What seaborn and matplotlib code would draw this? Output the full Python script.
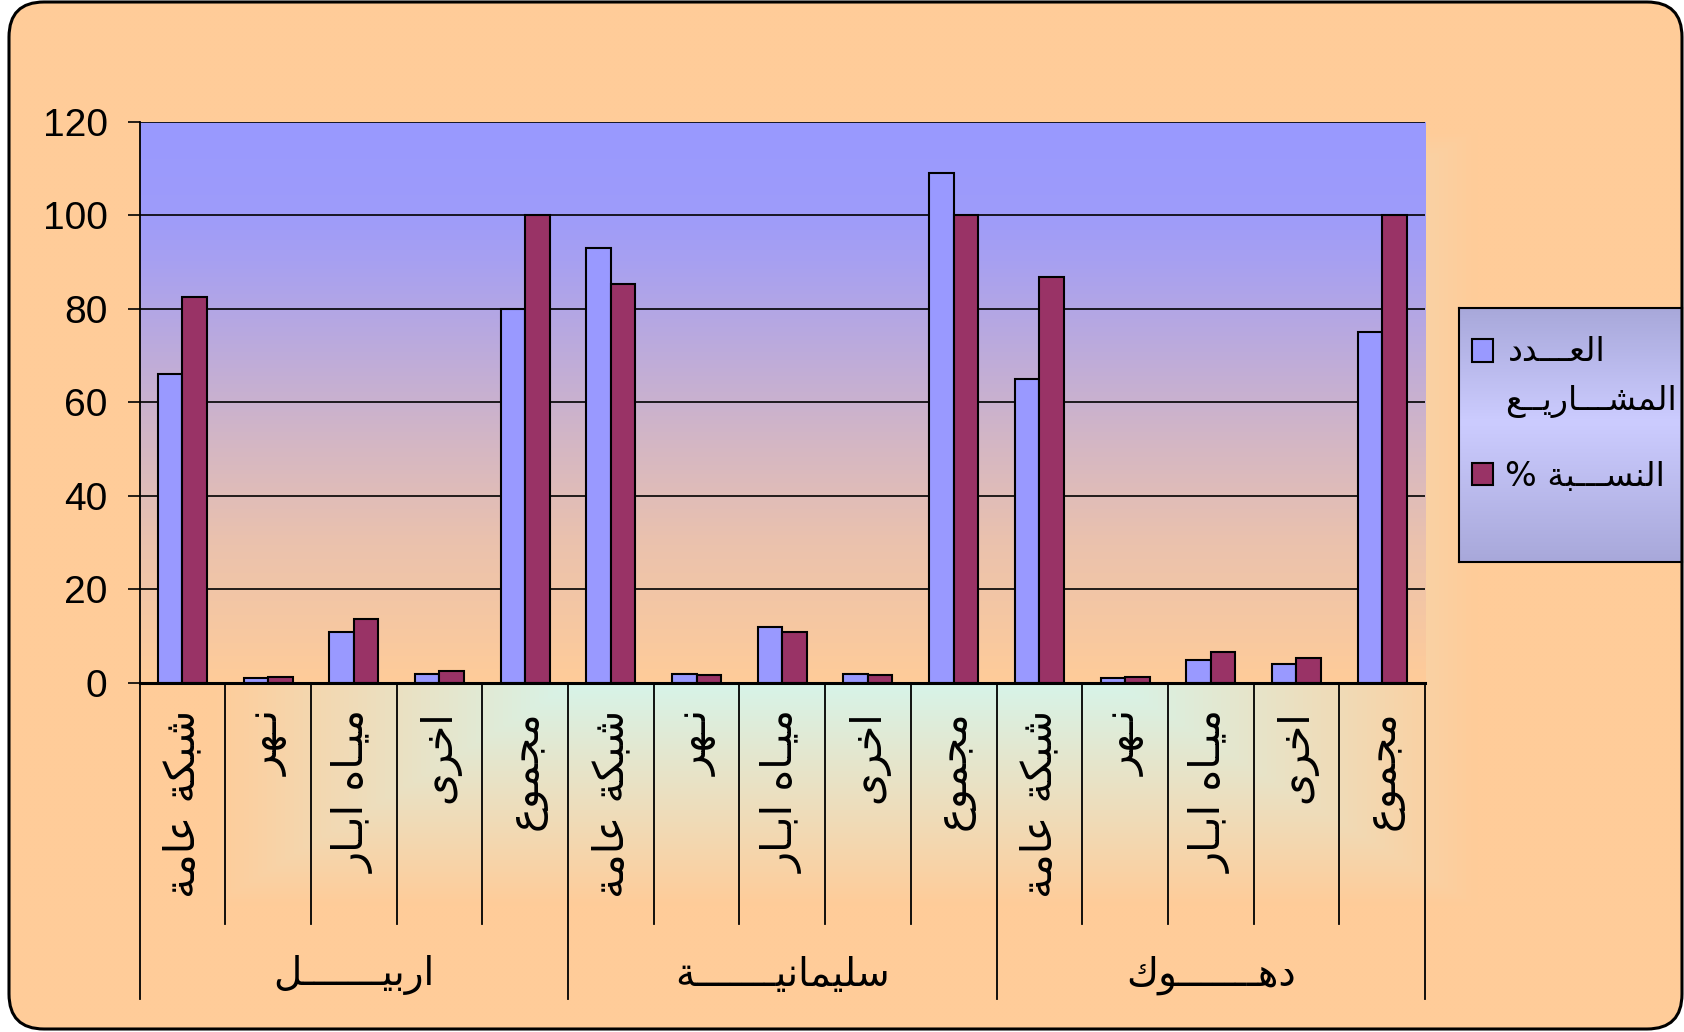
import numpy as np
import pandas as pd
import matplotlib
matplotlib.use('Agg')
import matplotlib.pyplot as plt
import seaborn as sns
from matplotlib.patches import FancyBboxPatch, Rectangle
from matplotlib.transforms import blended_transform_factory
from matplotlib.colors import to_rgb

# DATA
groups = ['اربيـــــــل', 'سليمانيـــــــة', 'دهـــــــوك']
categories = ['شبكة عامة', 'نـهر', 'ميـاه ابـار', 'اخرى', 'مجموع']
series_names = ['العـــدد المشـــاريــع', 'النســـبة %']
count_values = [66, 1, 11, 2, 80, 93, 2, 12, 2, 109, 65, 1, 5, 4, 75]
pct_values = [82.5, 1.25, 13.75, 2.5, 100, 85.3, 1.8, 11.0, 1.8, 100, 86.7, 1.3, 6.7, 5.3, 100]
yticks = [0, 20, 40, 60, 80, 100, 120]

BLUE = '#9999FF'
RED = '#993366'
PEACH = np.array(to_rgb('#FFCC99'))
CYAN = np.array(to_rgb('#CCFFFF'))

# matplotlib has no arabic shaping, so pick the presentation forms by hand
# char -> (first presentation form, number of forms)
AR = {'ا': (0xFE8D, 2), 'ب': (0xFE8F, 4), 'ة': (0xFE93, 2), 'ت': (0xFE95, 4),
      'ث': (0xFE99, 4), 'ج': (0xFE9D, 4), 'ح': (0xFEA1, 4), 'خ': (0xFEA5, 4),
      'د': (0xFEA9, 2), 'ذ': (0xFEAB, 2), 'ر': (0xFEAD, 2), 'ز': (0xFEAF, 2),
      'س': (0xFEB1, 4), 'ش': (0xFEB5, 4), 'ص': (0xFEB9, 4), 'ض': (0xFEBD, 4),
      'ط': (0xFEC1, 4), 'ظ': (0xFEC5, 4), 'ع': (0xFEC9, 4), 'غ': (0xFECD, 4),
      'ف': (0xFED1, 4), 'ق': (0xFED5, 4), 'ك': (0xFED9, 4), 'ل': (0xFEDD, 4),
      'م': (0xFEE1, 4), 'ن': (0xFEE5, 4), 'ه': (0xFEE9, 4), 'و': (0xFEED, 2),
      'ى': (0xFEEF, 2), 'ي': (0xFEF1, 4), 'ـ': (0x0640, 4)}


def shape(text):
    out = []
    for i, ch in enumerate(text):
        if ch not in AR or ch == 'ـ':
            out.append(ch)
            continue
        prev = text[i - 1] if i > 0 else ''
        nxt = text[i + 1] if i + 1 < len(text) else ''
        base, n = AR[ch]
        join_prev = prev in AR and AR[prev][1] == 4
        join_next = n == 4 and nxt in AR
        if join_prev and join_next:
            form = 3
        elif join_prev:
            form = 1
        elif join_next:
            form = 2
        else:
            form = 0
        out.append(chr(base + form))
    return ''.join(reversed(out))


AR_FONT = ['DejaVu Sans']
plt.rcParams['font.family'] = ['Liberation Sans', 'DejaVu Sans']

W, H = 1684, 1032
fig = plt.figure(figsize=(W / 100, H / 100), dpi=100)

# chart area background: gradient from the centre, rounded border
bg = fig.add_axes([0, 0, 1, 1], zorder=-5)
bg.set_xlim(0, W)
bg.set_ylim(H, 0)
bg.axis('off')
yy, xx = np.mgrid[0:H:4, 0:W:4]
t = np.maximum(np.abs(xx - W / 2) / (W / 2), np.abs(yy - H / 2) / (H / 2))
s = np.clip((t - 0.2) / 0.55, 0, 1)[..., None]
bg_img = bg.imshow((1 - s) * CYAN + s * PEACH, extent=[0, W, H, 0], interpolation='bilinear', aspect='auto')
clip_box = FancyBboxPatch((9, 2), 1673, 1027, boxstyle='round,pad=0,rounding_size=35',
                          fc='none', ec='none', transform=bg.transData)
bg.add_patch(clip_box)
bg_img.set_clip_path(clip_box)

# plot area
ax_l, ax_r, ax_t, ax_b = 139.5, 1425, 121.5, 683
ax = fig.add_axes([ax_l / W, 1 - ax_b / H, (ax_r - ax_l) / W, (ax_b - ax_t) / H])

slots = [f'{g}-{c}' for g in range(len(groups)) for c in range(len(categories))]
df = pd.DataFrame({
    'slot': slots * 2,
    'series': [series_names[0]] * len(slots) + [series_names[1]] * len(slots),
    'value': count_values + pct_values,
})

sns.barplot(data=df, x='slot', y='value', hue='series', order=slots, hue_order=series_names,
            palette={series_names[0]: BLUE, series_names[1]: RED}, saturation=1,
            width=2 / 3.5, gap=0, errorbar=None, edgecolor='black', linewidth=1.5,
            legend=False, ax=ax)

# vertical gradient of the plot area
lv = np.linspace(120, 0, 300)
mix = np.interp(lv, [0, 10, 30, 50, 70, 90, 100, 120], [1, 0.93, 0.8, 0.59, 0.36, 0.14, 0.05, 0])[:, None, None]
plot_bg = (1 - mix) * np.array(to_rgb(BLUE)) + mix * PEACH
ax.imshow(plot_bg, extent=[-0.5, 14.5, 0, 120], aspect='auto', zorder=0, interpolation='bilinear')
ax.set_xlim(-0.5, 14.5)
ax.set_ylim(0, 120)

ax.set_axisbelow(True)
ax.yaxis.grid(True, color='black', linewidth=1.2)
ax.set_yticks(yticks)
ax.tick_params(axis='y', length=9, width=1.2, pad=14, labelsize=28, direction='out')
ax.set_xticks([])
ax.set_xlabel('')
ax.set_ylabel('')
for side in ['top', 'right']:
    ax.spines[side].set_visible(False)
ax.spines['left'].set_linewidth(1.3)
ax.spines['bottom'].set_linewidth(2.2)

# category axis: labels, separators and group labels
trans = blended_transform_factory(ax.transData, ax.transAxes)
def ay(py):
    return (ax_b - py) / (ax_b - ax_t)

for g in range(len(groups)):
    for c, cat in enumerate(categories):
        i = g * len(categories) + c
        ax.text(i, ay(710), shape(cat), rotation=90, ha='center', va='top',
                fontsize=30, family=AR_FONT, transform=trans)
        if c > 0:
            ax.plot([i - 0.5, i - 0.5], [0, ay(924)], color='black', lw=1.3,
                    transform=trans, clip_on=False)
    mid = g * len(categories) + (len(categories) - 1) / 2
    ax.text(mid, ay(975), shape(groups[g]), ha='center', va='center',
            fontsize=28, family=AR_FONT, transform=trans)
for g in range(len(groups) + 1):
    x = g * len(categories) - 0.5
    ax.plot([x, x], [0, ay(999)], color='black', lw=1.3, transform=trans, clip_on=False)

# legend box with its own gradient
lg = fig.add_axes([1459 / W, 1 - 562 / H, (1682 - 1459) / W, (562 - 308) / H])
lg.set_xticks([])
lg.set_yticks([])
for sp in lg.spines.values():
    sp.set_linewidth(1.5)
lmix = np.interp(np.linspace(0, 1, 200), [0, 0.45, 1], [1, 0, 1])[:, None, None]
lg.imshow((1 - lmix) * np.array(to_rgb('#CCCCFF')) + lmix * np.array(to_rgb('#A8A8DA')),
          extent=[1459, 1682, 562, 308], aspect='auto', interpolation='bilinear')
lg.set_xlim(1459, 1682)
lg.set_ylim(562, 308)

first, second = series_names[0].split(' ')
lg.add_patch(Rectangle((1472, 339), 21, 23, fc=BLUE, ec='black', lw=1.5))
lg.text(1508, 361, shape(first), ha='left', va='baseline', fontsize=24, family=AR_FONT)
lg.text(1505, 410, shape(second), ha='left', va='baseline', fontsize=24, family=AR_FONT)
lg.add_patch(Rectangle((1472, 463), 21, 22, fc=RED, ec='black', lw=1.5))
lg.text(1505, 486, shape(series_names[1]), ha='left', va='baseline', fontsize=24, family=AR_FONT)

# rounded border on top of everything
top = fig.add_axes([0, 0, 1, 1], zorder=10)
top.set_xlim(0, W)
top.set_ylim(H, 0)
top.axis('off')
top.patch.set_alpha(0)
top.add_patch(FancyBboxPatch((9, 2), 1673, 1027, boxstyle='round,pad=0,rounding_size=35',
                             fc='none', ec='black', lw=2.2))

fig.savefig('out.png', dpi=100)
